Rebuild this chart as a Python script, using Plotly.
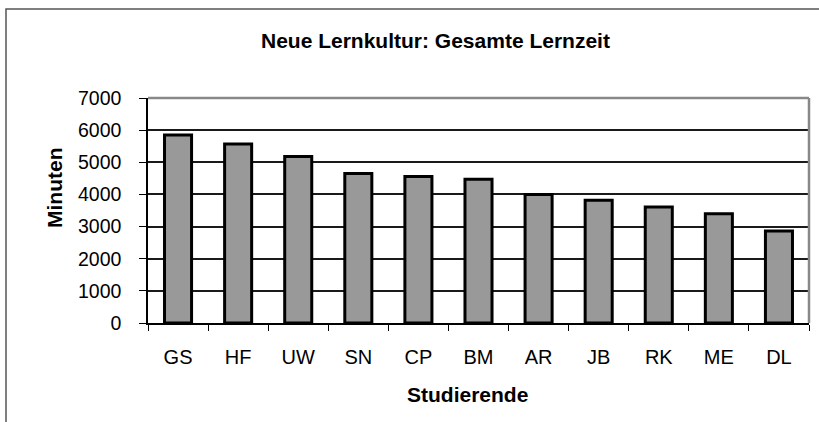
import plotly.graph_objects as go

categories = ["GS", "HF", "UW", "SN", "CP", "BM", "AR", "JB", "RK", "ME", "DL"]
minutes = [5850, 5570, 5180, 4650, 4560, 4470, 4000, 3815, 3610, 3400, 2860]
y_ticks = [0, 1000, 2000, 3000, 4000, 5000, 6000, 7000]

W, H = 819, 422
L, R, T, B = 148, 10, 98, 99
pw, ph = W - L - R, H - T - B

def px_x(x):
    return (x - L) / pw

def px_y(y):
    return (H - B - y) / ph

FONT = "Liberation Sans, Arial, sans-serif"

fig = go.Figure(go.Bar(
    x=categories, y=minutes,
    marker=dict(color="#999999", line=dict(color="#000000", width=3)),
    width=0.45,
))

fig.update_layout(
    width=W, height=H,
    margin=dict(l=L, r=R, t=T, b=B, pad=0),
    paper_bgcolor="white", plot_bgcolor="white",
    showlegend=False,
    font=dict(family=FONT, size=19, color="black"),
    bargap=0.55,
)
fig.update_xaxes(
    showgrid=False, showline=True, linecolor="black", linewidth=1.5,
    ticks="outside", tickson="boundaries", ticklen=6, tickcolor="black", tickwidth=1,
    ticklabelstandoff=15, tickfont=dict(size=20),
)
fig.update_yaxes(
    range=[0, 7000], tickvals=y_ticks, showgrid=True, gridcolor="#1a1a1a", gridwidth=1.5,
    showline=True, linecolor="black", linewidth=1.5,
    ticks="outside", ticklen=7, tickcolor="black", tickwidth=1,
    ticklabelstandoff=14, tickfont=dict(size=19.5), zeroline=False,
)

# plot-area border on top/right in gray
fig.add_shape(type="line", xref="paper", yref="paper", x0=0, x1=1, y0=1, y1=1,
              line=dict(color="#888888", width=2.5), layer="above")
fig.add_shape(type="line", xref="paper", yref="paper", x0=1, x1=1, y0=0, y1=1,
              line=dict(color="#888888", width=2.5), layer="above")
# outer chart frame (extends beyond the right and bottom edges)
fig.add_shape(type="rect", xref="paper", yref="paper",
              x0=px_x(6), x1=px_x(840), y0=px_y(440), y1=px_y(9),
              line=dict(color="#555555", width=1.5), fillcolor="rgba(0,0,0,0)", layer="below")

fig.add_annotation(text="<b>Neue Lernkultur: Gesamte Lernzeit</b>", xref="paper", yref="paper",
                   x=px_x(435), y=px_y(41), showarrow=False, font=dict(size=21),
                   xanchor="center", yanchor="middle")
fig.add_annotation(text="<b>Minuten</b>", xref="paper", yref="paper",
                   x=px_x(54), y=px_y(188), showarrow=False, font=dict(size=21),
                   textangle=-90, xanchor="center", yanchor="middle")
fig.add_annotation(text="<b>Studierende</b>", xref="paper", yref="paper",
                   x=px_x(467), y=px_y(394), showarrow=False, font=dict(size=21),
                   xanchor="center", yanchor="middle")

fig.write_html("out.html", config={"displayModeBar": False},
               post_script="document.body.style.margin='0';document.body.style.overflow='hidden';")
